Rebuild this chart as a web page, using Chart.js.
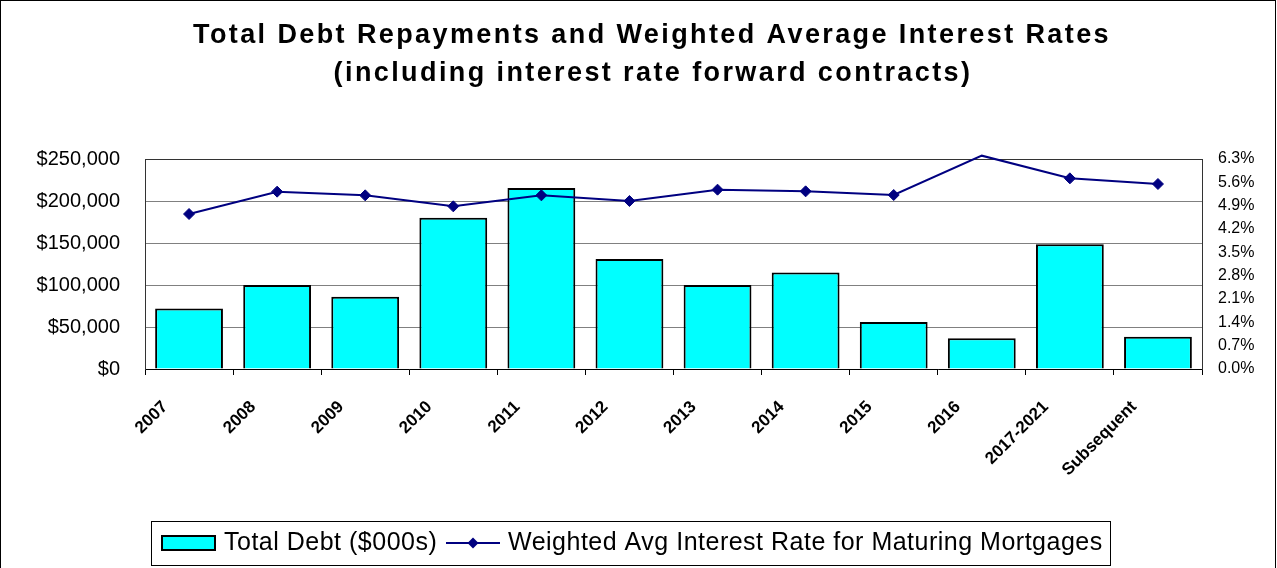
<!DOCTYPE html>
<html>
<head>
<meta charset="utf-8">
<title>Total Debt Repayments and Weighted Average Interest Rates</title>
<script src="https://cdn.jsdelivr.net/npm/chart.js@4.4.1/dist/chart.umd.min.js"></script>
<style>
  html, body { margin: 0; padding: 0; background: #ffffff; }
  #wrap { width: 1277px; height: 568px; position: relative; }
  canvas { display: block; }
</style>
</head>
<body>
<div id="wrap"><canvas id="chart" width="1277" height="568"></canvas></div>
<script>
// Repayment periods
const categories = ['2007', '2008', '2009', '2010', '2011', '2012', '2013', '2014', '2015', '2016', '2017-2021', 'Subsequent'];
// Total debt repayments, $000s
const totalDebt = [72000, 100000, 86000, 180000, 215500, 131000, 100000, 115000, 56000, 36500, 148500, 38500];
// Weighted average interest rate of maturing mortgages, %
const interestRates = [4.65, 5.32, 5.21, 4.88, 5.21, 5.04, 5.38, 5.33, 5.22, 6.40, 5.72, 5.55];

// Axis ranges
const debtMin = 0, debtMax = 250000, debtStep = 50000;
const rateMin = 0, rateMax = 6.3, rateStep = 0.7;

const titleLines = ['Total Debt Repayments and Weighted Average Interest Rates', '(including interest rate forward contracts)'];
const seriesNames = ['Total Debt ($000s)', 'Weighted Avg Interest Rate for Maturing Mortgages'];

const FONT = '"Liberation Sans", Arial, Helvetica, sans-serif';
const BAR_FILL = '#00FFFF';
const LINE_COLOR = '#000080';

function setSpacing(ctx, px) {
  if ('letterSpacing' in ctx) ctx.letterSpacing = px + 'px';
}

// Two-line bold title, slightly tracked
const titlePlugin = {
  id: 'twoLineTitle',
  afterDraw(chart) {
    const ctx = chart.ctx;
    ctx.save();
    ctx.font = 'bold 27px ' + FONT;
    ctx.fillStyle = '#000';
    ctx.textAlign = 'center';
    ctx.textBaseline = 'middle';
    setSpacing(ctx, 2.4);
    ctx.fillText(titleLines[0], 652, 36);
    ctx.fillText(titleLines[1], 653, 74);
    ctx.restore();
  }
};

// Outer frame around the whole chart
const framePlugin = {
  id: 'frame',
  afterDraw(chart) {
    const ctx = chart.ctx;
    ctx.save();
    ctx.strokeStyle = '#000';
    ctx.lineWidth = 1;
    ctx.strokeRect(0.5, 0.5, chart.width - 2, chart.height + 4);
    ctx.restore();
  }
};

// Boxed legend under the axis: bar swatch + line-with-diamond swatch
const boxLegendPlugin = {
  id: 'boxLegend',
  afterDraw(chart) {
    const ctx = chart.ctx;
    const barDs = chart.data.datasets[0];
    const lineDs = chart.data.datasets[1];
    const top = 521, bottom = 565, left = 151, right = 1110;
    const cy = 543;
    ctx.save();
    ctx.strokeStyle = '#000';
    ctx.lineWidth = 1;
    ctx.strokeRect(left + 0.5, top + 0.5, right - left, bottom - top);

    ctx.font = '25px ' + FONT;
    ctx.textBaseline = 'middle';
    ctx.textAlign = 'left';
    setSpacing(ctx, 0.5);

    // bar item
    ctx.fillStyle = barDs.backgroundColor;
    ctx.fillRect(162, cy - 7, 53, 14);
    ctx.strokeStyle = '#000';
    ctx.lineWidth = 2;
    ctx.strokeRect(162, cy - 7, 53, 14);
    ctx.fillStyle = '#000';
    ctx.fillText(barDs.label, 224, cy);

    // line item
    const lx = 446;
    ctx.strokeStyle = lineDs.borderColor;
    ctx.lineWidth = 2;
    ctx.beginPath();
    ctx.moveTo(lx, cy);
    ctx.lineTo(lx + 54, cy);
    ctx.stroke();
    const dx = lx + 27, r = 5.5;
    ctx.fillStyle = lineDs.borderColor;
    ctx.beginPath();
    ctx.moveTo(dx, cy - r);
    ctx.lineTo(dx + r, cy);
    ctx.lineTo(dx, cy + r);
    ctx.lineTo(dx - r, cy);
    ctx.closePath();
    ctx.fill();
    ctx.fillStyle = '#000';
    ctx.fillText(lineDs.label, 508, cy);
    ctx.restore();
  }
};

const ctx = document.getElementById('chart').getContext('2d');
new Chart(ctx, {
  data: {
    labels: categories,
    datasets: [
      {
        type: 'bar',
        label: seriesNames[0],
        data: totalDebt,
        yAxisID: 'y',
        backgroundColor: BAR_FILL,
        borderColor: '#000000',
        borderWidth: 2,
        barPercentage: 0.77,
        categoryPercentage: 1.0,
        order: 2
      },
      {
        type: 'line',
        label: seriesNames[1],
        data: interestRates,
        yAxisID: 'y1',
        borderColor: LINE_COLOR,
        backgroundColor: LINE_COLOR,
        borderWidth: 2,
        tension: 0,
        pointStyle: 'rectRot',
        // markers beyond the rate axis maximum are not drawn
        pointRadius: (c) => (c.raw > rateMax ? 0 : 5.5),
        pointHoverRadius: (c) => (c.raw > rateMax ? 0 : 5.5),
        pointBackgroundColor: LINE_COLOR,
        pointBorderColor: LINE_COLOR,
        pointBorderWidth: 1,
        clip: 12,
        order: 1
      }
    ]
  },
  options: {
    responsive: false,
    animation: false,
    devicePixelRatio: 1,
    layout: { padding: { left: 26, right: 0, top: 159, bottom: 60 } },
    plugins: {
      legend: { display: false },
      tooltip: { enabled: false },
      title: { display: false }
    },
    scales: {
      x: {
        offset: true,
        grid: {
          offset: true,
          drawOnChartArea: false,
          drawTicks: true,
          tickLength: 6,
          color: '#000'
        },
        border: { color: '#000', width: 1 },
        ticks: {
          autoSkip: false,
          minRotation: 45,
          maxRotation: 45,
          labelOffset: -24,
          padding: 22,
          color: '#000',
          font: { family: FONT, size: 17, weight: 'bold' }
        },
        afterFit: (s) => { s.height = 139; }
      },
      y: {
        position: 'left',
        min: debtMin,
        max: debtMax,
        grid: {
          drawTicks: false,
          color: (c) => (c.tick && c.tick.value === debtMax ? '#333' : '#808080'),
          lineWidth: 1
        },
        border: { color: '#333', width: 1 },
        ticks: {
          stepSize: debtStep,
          padding: 25,
          color: '#000',
          font: { family: FONT, size: 20 },
          callback: (v) => '$' + Number(v).toLocaleString('en-US')
        },
        afterFit: (s) => { s.width = 119; }
      },
      y1: {
        position: 'right',
        min: rateMin,
        max: rateMax,
        grid: { drawOnChartArea: false, drawTicks: false },
        border: { color: '#333', width: 1 },
        ticks: {
          stepSize: rateStep,
          padding: 16,
          color: '#000',
          font: { family: FONT, size: 16 },
          callback: (v) => Number(v).toFixed(1) + '%'
        },
        afterFit: (s) => { s.width = 75; }
      }
    }
  },
  plugins: [titlePlugin, framePlugin, boxLegendPlugin]
});
</script>
</body>
</html>
